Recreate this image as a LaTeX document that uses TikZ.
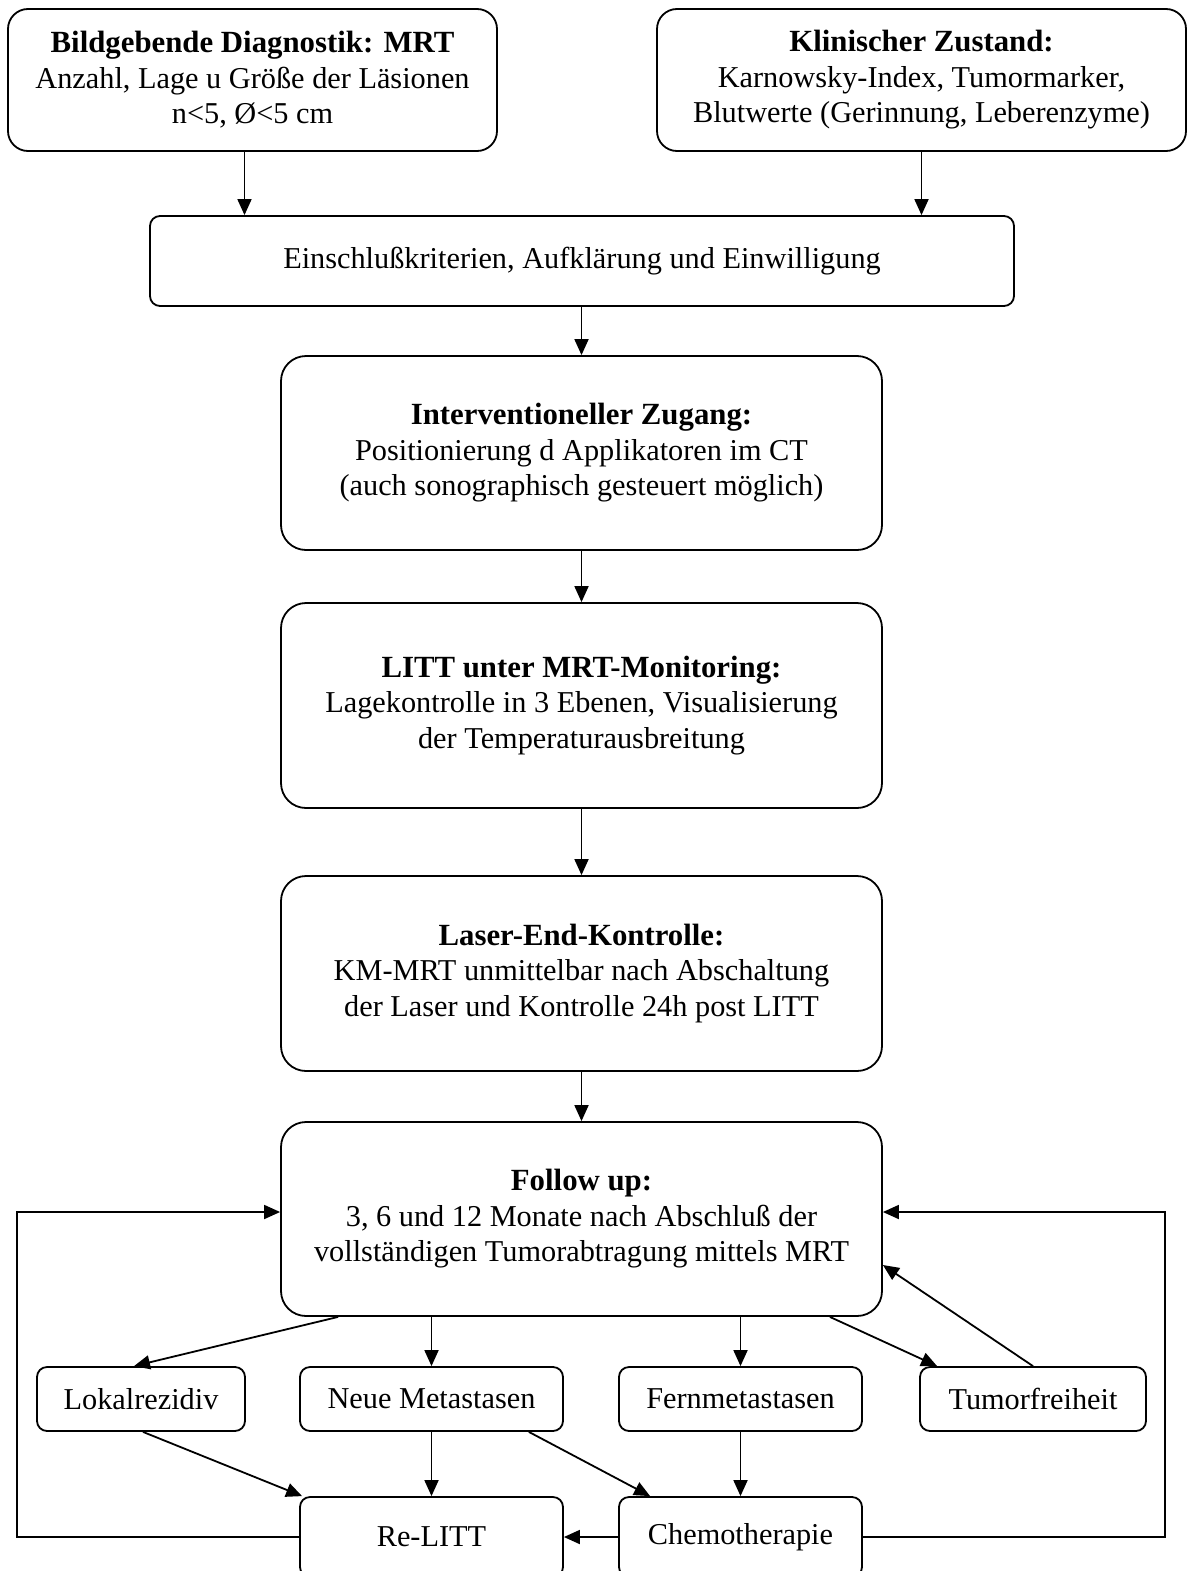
\documentclass[tikz,border=0pt]{standalone}
\usepackage{fontspec}
\setmainfont{Liberation Serif}
\usetikzlibrary{arrows.meta}
\newcommand{\headline}[1]{{\fontsize{30.8}{35.5}\selectfont\bfseries #1}}
\begin{document}
\begin{tikzpicture}[x=1pt,y=-1pt,
  box/.style={draw, line width=1.8pt, align=center, inner sep=0pt,
    font=\fontsize{30.3}{35.5}\selectfont},
  bigbox/.style={box, rounded corners=25pt, minimum width=601pt},
  topbox/.style={box, rounded corners=20pt, minimum height=142pt},
  smallbox/.style={box, rounded corners=10pt, minimum height=64pt},
  arr/.style={-{Triangle[length=16pt,width=14pt]}, line width=1.8pt}]
\useasboundingbox (0,0) rectangle (1188,1571);
\clip (0,0) rectangle (1188,1571);

% top row
\node[topbox, minimum width=489pt] (mrt) at (252.5,80)
  {\headline{Bildgebende Diagnostik: MRT}\\Anzahl, Lage u Größe der Läsionen\\n<5, Ø<5 cm};
\node[topbox, minimum width=529pt] (klin) at (921.5,80)
  {\headline{Klinischer Zustand:}\\Karnowsky-Index, Tumormarker,\\Blutwerte (Gerinnung, Leberenzyme)};

% main column
\node[box, rounded corners=10pt, minimum width=864pt, minimum height=90pt] (incl) at (582,261)
  {Einschlußkriterien, Aufklärung und Einwilligung};
\node[bigbox, minimum height=194pt] (interv) at (581.5,453)
  {\headline{Interventioneller Zugang:}\\Positionierung d Applikatoren im CT\\(auch sonographisch gesteuert möglich)};
\node[bigbox, minimum height=205pt] (litt) at (581.5,705.5)
  {\headline{LITT unter MRT-Monitoring:}\\Lagekontrolle in 3 Ebenen, Visualisierung\\der Temperaturausbreitung};
\node[bigbox, minimum height=195pt] (end) at (581.5,973.5)
  {\headline{Laser-End-Kontrolle:}\\KM-MRT unmittelbar nach Abschaltung\\der Laser und Kontrolle 24h post LITT};
\node[bigbox, minimum height=194pt] (fu) at (581.5,1219)
  {\headline{Follow up:}\\3, 6 und 12 Monate nach Abschluß der\\vollständigen Tumorabtragung mittels MRT};

% outcome row
\node[smallbox, minimum width=208pt] (lok) at (141,1399) {Lokalrezidiv};
\node[smallbox, minimum width=263pt] (neue) at (431.5,1399) {Neue Metastasen};
\node[smallbox, minimum width=243pt] (fern) at (740.5,1399) {Fernmetastasen};
\node[smallbox, minimum width=226pt] (tumor) at (1033,1399) {Tumorfreiheit};

% therapy row
\node[smallbox, minimum width=263pt, minimum height=80pt] (relitt) at (431.5,1537) {Re-LITT};
\node[smallbox, minimum width=243pt, minimum height=80pt] (chemo) at (740.5,1537) {Chemotherapie};

% loop-back corners
\coordinate (lt) at (17,1212);
\coordinate (rt) at (1165,1212);

% connectors
\draw[arr] ([xshift=-8pt]mrt.south) -- ([xshift=-8pt]mrt.south |- incl.north);
\draw[arr] (klin.south) -- (klin.south |- incl.north);
\draw[arr] (incl.south -| interv.north) -- (interv.north);
\draw[arr] (interv.south) -- (litt.north);
\draw[arr] (litt.south) -- (end.north);
\draw[arr] (end.south) -- (fu.north);

\draw[arr] ([xshift=58pt]fu.south west) -- ([xshift=-7pt]lok.north);
\draw[arr] (fu.south -| neue.north) -- (neue.north);
\draw[arr] (fu.south -| fern.north) -- (fern.north);
\draw[arr] ([xshift=-53pt]fu.south east) -- ([xshift=18pt]tumor.north west);
\draw[arr] (tumor.north) -- ([yshift=-46pt]fu.east);

\draw[arr] ([xshift=2pt]lok.south) -- ([xshift=3pt]relitt.north west);
\draw[arr] (neue.south) -- (relitt.north);
\draw[arr] ([xshift=-35pt]neue.south east) -- ([xshift=32pt]chemo.north west);
\draw[arr] (fern.south) -- (chemo.north);
\draw[arr] (chemo.west) -- (relitt.east);

\draw[arr] (relitt.west) -| (lt) -- (lt -| fu.west);
\draw[arr] (chemo.east) -| (rt) -- (rt -| fu.east);
\end{tikzpicture}
\end{document}
